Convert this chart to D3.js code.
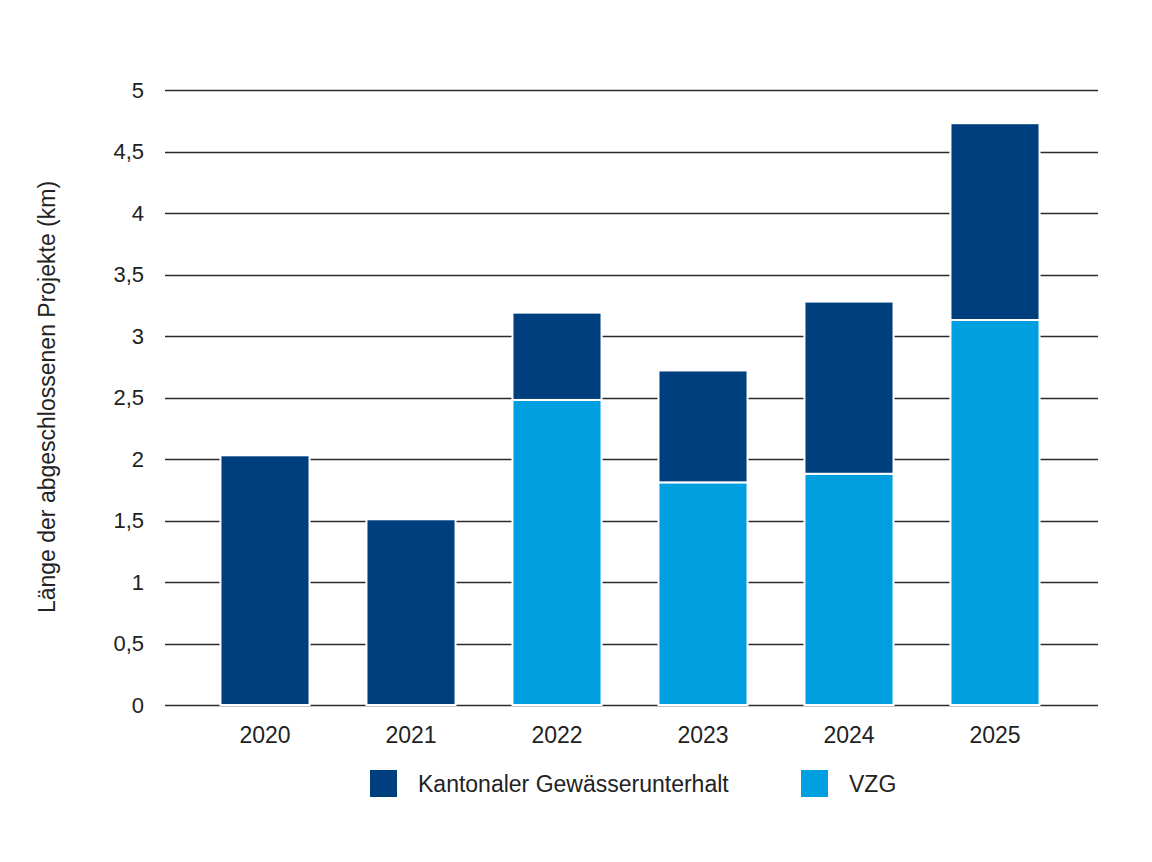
<!DOCTYPE html>
<html><head><meta charset="utf-8">
<script src="https://cdn.jsdelivr.net/npm/d3@7"></script>
<style>body{margin:0;background:#fff}svg{display:block}text{font-family:"Liberation Sans",Arial,sans-serif;fill:#222}</style>
</head><body><svg id="c" width="1152" height="862"></svg>
<script>
const years = ["2020","2021","2022","2023","2024","2025"];
const vzg = [0, 0, 2.48, 1.81, 1.88, 3.13];
const kanton = [2.03, 1.51, 0.71, 0.91, 1.40, 1.60];
const yTicks = [0,0.5,1,1.5,2,2.5,3,3.5,4,4.5,5];
const seriesNames = ["Kantonaler Gewässerunterhalt","VZG"];
const colors = {kanton:"#003f7d", vzg:"#009fdf"};

const svg = d3.select("#c");
const x = d3.scaleBand().domain(years).range([192,1068]).paddingInner(0.39).paddingOuter(0.195);
const y = d3.scaleLinear().domain([0,5]).range([705,90]);
const fmt = v => String(v).replace(".", ",");

// gridlines
svg.append("g").selectAll("line").data(yTicks).join("line")
  .attr("x1",165).attr("x2",1098)
  .attr("y1",d=>Math.round(y(d))+0.5).attr("y2",d=>Math.round(y(d))+0.5)
  .attr("stroke","#2a2a2a").attr("stroke-width",1.3);

// y labels
svg.append("g").selectAll("text").data(yTicks).join("text")
  .attr("x",144).attr("y",d=>y(d)).attr("dy","0.36em")
  .attr("text-anchor","end").attr("font-size",22).text(fmt);

// bars
const data = years.map((yr,i)=>({yr, v:vzg[i], k:kanton[i]}));
const g = svg.append("g");
g.selectAll("rect.v").data(data.filter(d=>d.v>0)).join("rect")
  .attr("x",d=>x(d.yr)).attr("width",x.bandwidth())
  .attr("y",d=>y(d.v)).attr("height",d=>y(0)-y(d.v))
  .attr("fill",colors.vzg).attr("stroke","#fff").attr("stroke-width",2);
g.selectAll("rect.k").data(data).join("rect")
  .attr("x",d=>x(d.yr)).attr("width",x.bandwidth())
  .attr("y",d=>y(d.v+d.k)).attr("height",d=>y(d.v)-y(d.v+d.k))
  .attr("fill",colors.kanton).attr("stroke","#fff").attr("stroke-width",2);

// x labels
svg.append("g").selectAll("text").data(years).join("text")
  .attr("x",d=>x(d)+x.bandwidth()/2).attr("y",743)
  .attr("text-anchor","middle").attr("font-size",23).text(d=>d);

// y title
svg.append("text").attr("transform","translate(55,397) rotate(-90)")
  .attr("text-anchor","middle").attr("font-size",23)
  .text("Länge der abgeschlossenen Projekte (km)");

// legend
const leg = [{name:seriesNames[0],c:colors.kanton,x:370},{name:seriesNames[1],c:colors.vzg,x:801}];
const lg = svg.append("g").selectAll("g").data(leg).join("g");
lg.append("rect").attr("x",d=>d.x).attr("y",770).attr("width",27).attr("height",27).attr("fill",d=>d.c);
lg.append("text").attr("x",d=>d.x+48).attr("y",792).attr("font-size",23).text(d=>d.name);
</script></body></html>
